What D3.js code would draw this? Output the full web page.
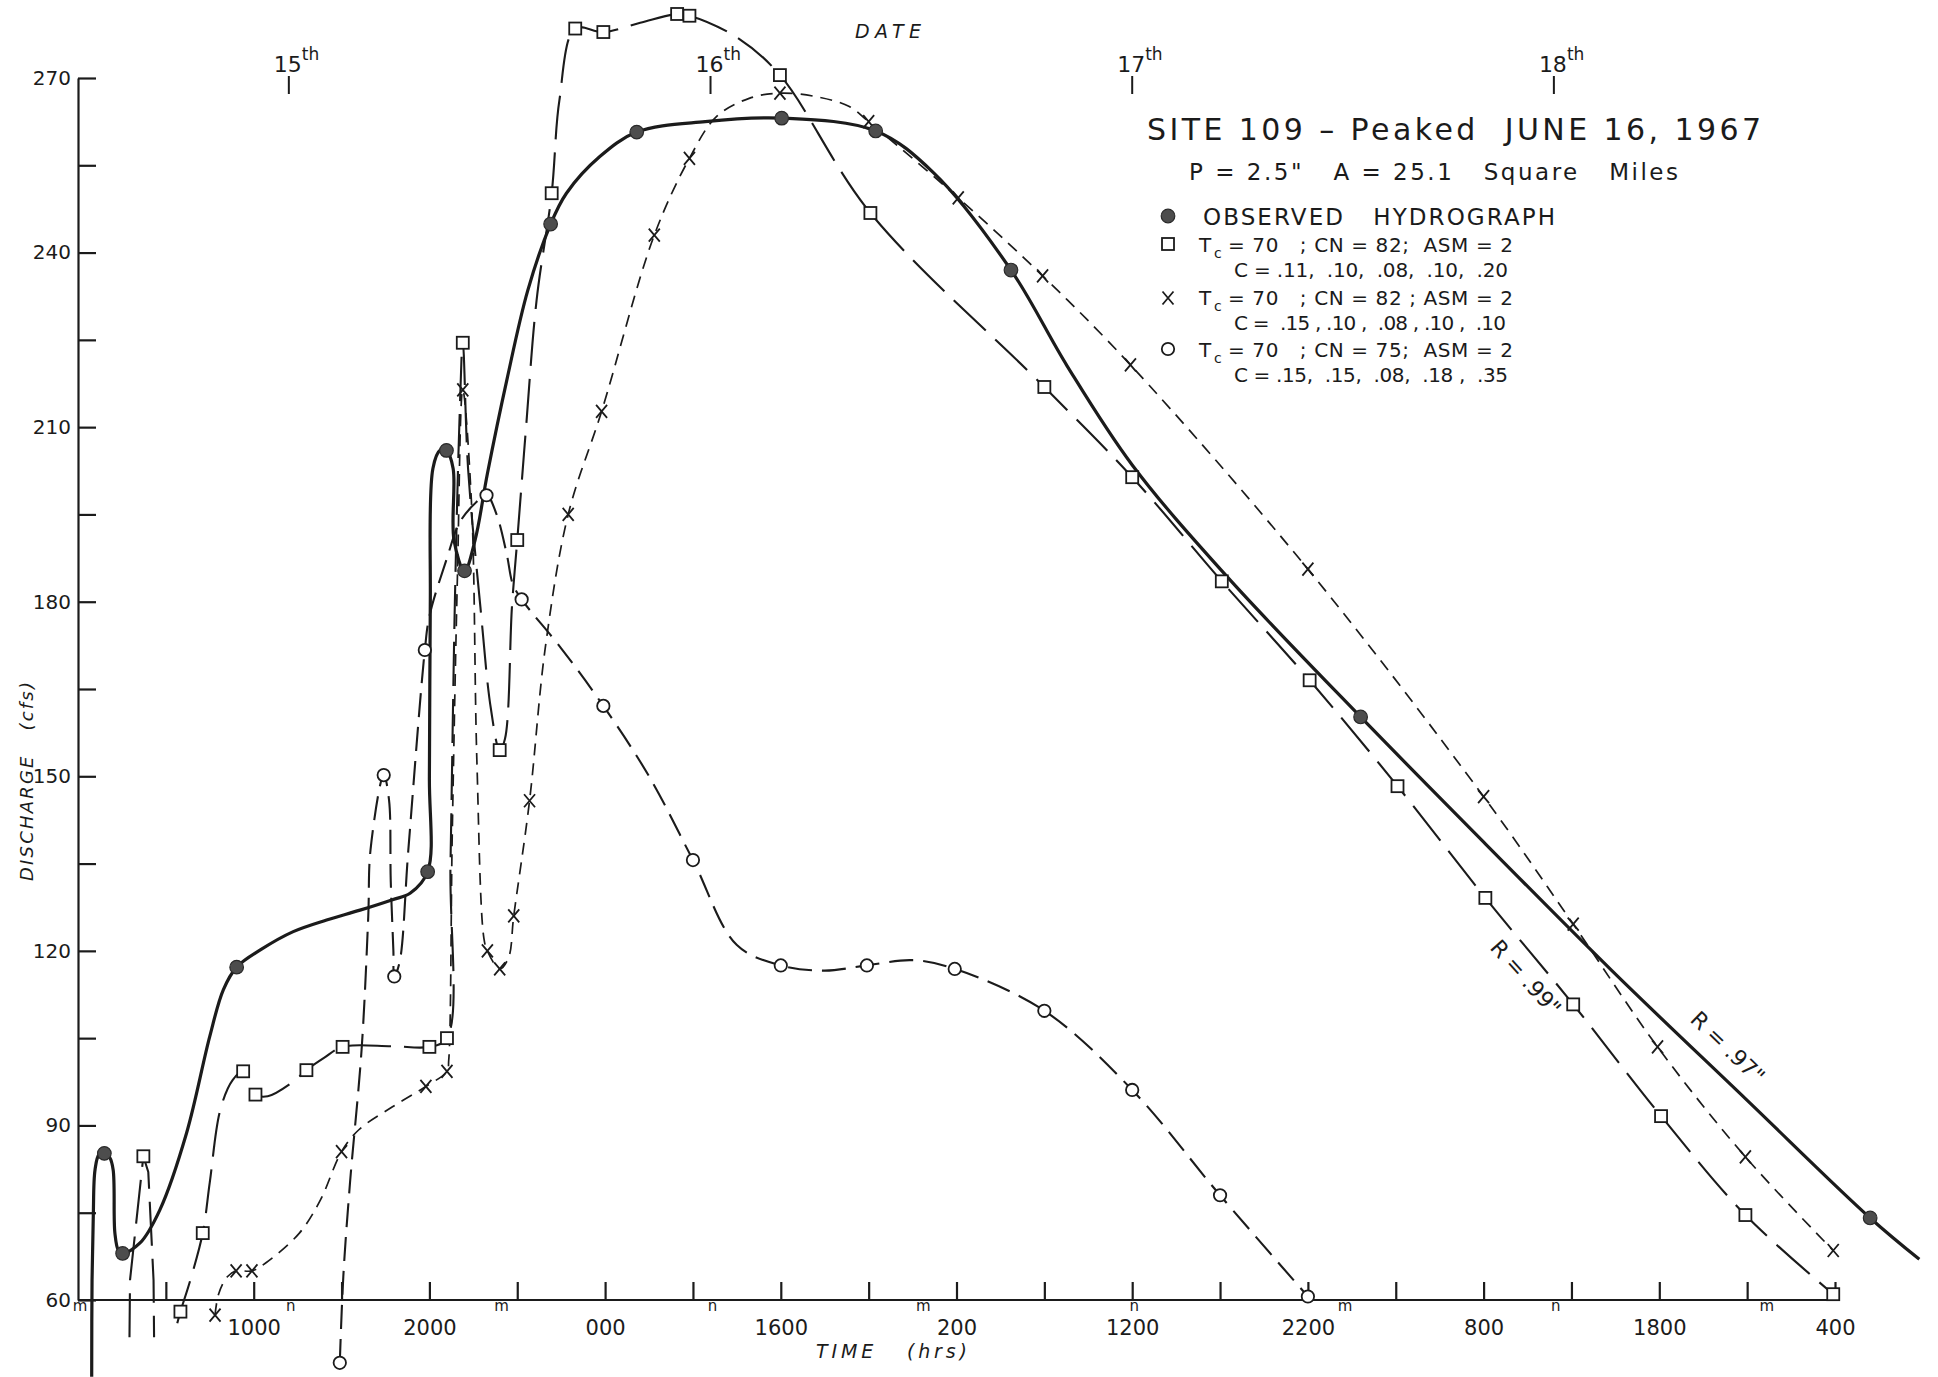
<!DOCTYPE html>
<html>
<head>
<meta charset="utf-8">
<title>Site 109 hydrograph</title>
<script src="https://cdn.jsdelivr.net/npm/d3@7"></script>
<style>
  html, body { margin: 0; padding: 0; background: #ffffff; }
  svg { display: block; }
  text { white-space: pre; }
</style>
</head>
<body>
<svg id="chart" width="1938" height="1377"></svg>
<script>
// Time is counted in hours from midnight at the start of June 15; discharge in cfs.

// Observed hydrograph: traced line and the measured (filled) points
const obsHours = [0.78, 0.8, 0.87, 0.97, 1.2, 1.5, 1.8, 2.0, 2.1, 2.3, 2.54, 3.53, 4.66, 6.18, 7.5, 8.27, 9.03, 10.4, 12.25, 14.15, 16.05, 17.9, 18.9, 19.9, 20.0, 20.05, 20.2, 20.6, 20.97, 21.35, 21.4, 22.0, 22.6, 23.3, 24.4, 25.6, 26.9, 27.8, 29.7, 31.8, 35.7, 40.05, 45.4, 48.7, 53.1, 56.3, 60.0, 65.4, 73.0, 80.1, 87.3, 94.9, 102.0, 104.8];
const obsCfs   = [46.8, 63.5, 74.4, 82.4, 85.0, 85.2, 84.5, 82.4, 71.5, 68.5, 68.0, 69.8, 75.5, 88.7, 105.3, 113.3, 117.2, 120.2, 123.3, 125.3, 127.0, 128.8, 129.9, 133.6, 150, 179.2, 202.9, 206, 206, 202.9, 190.6, 185.3, 190.6, 202, 218, 233.5, 244.9, 250.2, 256.5, 260.7, 262.5, 263.1, 260.9, 253.7, 237, 220.5, 203.5, 184.3, 160.2, 138.4, 116.6, 94.6, 74.1, 67.0];
const obsDotHours = [1.5, 2.54, 9.03, 19.9, 20.97, 22.0, 26.9, 31.8, 40.05, 45.4, 53.1, 73.0, 102.0];
const obsDotCfs   = [85.2, 68.0, 117.2, 133.6, 206, 185.3, 244.9, 260.7, 263.1, 260.9, 237, 160.2, 74.1];

// Tc = 70; CN = 82; ASM = 2; C = .11, .10, .08, .10, .20  (squares)
const sqLeadHours = [2.93, 2.96, 3.72, 4.0, 4.3, 4.33];
const sqLeadCfs   = [53.6, 63.4, 84.7, 82, 63.4, 53.6];
const sqHours = [5.65, 5.83, 6.4, 7.1, 7.5, 8.1, 8.8, 9.4, 10.1, 10.8, 12.2, 13.0, 14.0, 15.06, 17.9, 20.0, 21.0, 21.2, 21.45, 21.7, 21.9, 22.2, 22.9, 23.5, 24.0, 24.3, 24.7, 25.0, 25.5, 26.1, 26.96, 27.4, 28.3, 29.9, 32.0, 34.1, 34.8, 37.5, 39.95, 45.1, 55.0, 60.0, 65.1, 70.1, 75.1, 80.1, 85.1, 90.1, 94.9, 99.9];
const sqCfs   = [56, 58.0, 63.5, 71.5, 80.2, 92.7, 97.8, 99.3, 95.3, 95, 97.4, 99.5, 101.6, 103.5, 103.6, 103.5, 105, 135, 180, 210, 224.5, 202.9, 179.2, 161.6, 154.5, 156.4, 179.2, 190.6, 209.9, 231.8, 250.2, 266.2, 278.5, 277.9, 279.5, 281, 280.7, 277, 270.5, 246.8, 216.9, 201.4, 183.5, 166.5, 148.3, 129.1, 110.8, 91.6, 74.6, 61];
const sqMarkHours = [3.72, 5.83, 7.1, 9.4, 10.1, 13.0, 15.06, 20.0, 21.0, 21.9, 24.0, 25.0, 26.96, 28.3, 29.9, 34.1, 34.8, 39.95, 45.1, 55.0, 60.0, 65.1, 70.1, 75.1, 80.1, 85.1, 90.1, 94.9, 99.9];
const sqMarkCfs   = [84.7, 58.0, 71.5, 99.3, 95.3, 99.5, 103.5, 103.5, 105, 224.5, 154.5, 190.6, 250.2, 278.5, 277.9, 281, 280.7, 270.5, 246.8, 216.9, 201.4, 183.5, 166.5, 148.3, 129.1, 110.8, 91.6, 74.6, 61];

// Tc = 70; CN = 82; ASM = 2; C = .15, .10, .08, .10, .10  (crosses)
const xHours = [7.8, 8.0, 8.5, 9.0, 9.9, 10.7, 12.6, 13.8, 15.0, 16.0, 17.9, 19.8, 21.0, 21.1, 21.3, 21.6, 21.9, 22.4, 22.7, 23.1, 23.3, 24.0, 24.5, 24.8, 25.7, 26.6, 27.9, 29.8, 32.8, 34.8, 36.35, 38.2, 39.95, 42.0, 43.9, 45.0, 50.1, 54.9, 59.9, 70.0, 80.0, 85.1, 89.9, 94.9, 99.9];
const xCfs   = [57.4, 61, 64, 65, 65, 66.4, 71.5, 77.2, 85.5, 89.3, 93.2, 96.7, 99.3, 101.2, 140, 185, 216.4, 196.7, 152.9, 122.2, 120.0, 116.9, 118.8, 126, 145.8, 172.2, 195, 212.7, 243, 256.2, 263.4, 266.5, 267.4, 266.8, 265.1, 262.5, 249.4, 236, 220.7, 185.6, 146.5, 124.6, 103.5, 84.6, 68.5];
const xMarkHours = [7.8, 9.0, 9.9, 15.0, 19.8, 21.0, 21.9, 23.3, 24.0, 24.8, 25.7, 27.9, 29.8, 32.8, 34.8, 39.95, 45.0, 50.1, 54.9, 59.9, 70.0, 80.0, 85.1, 89.9, 94.9, 99.9];
const xMarkCfs   = [57.4, 65, 65, 85.5, 96.7, 99.3, 216.4, 120.0, 116.9, 126, 145.8, 195, 212.7, 243, 256.2, 267.4, 262.5, 249.4, 236, 220.7, 185.6, 146.5, 124.6, 103.5, 84.6, 68.5];

// Tc = 70; CN = 75; ASM = 2; C = .15, .15, .08, .18, .35  (circles)
const oHours = [14.9, 15.1, 15.48, 16.14, 16.52, 16.65, 17.4, 17.7, 17.8, 17.95, 18.0, 18.3, 18.8, 19.74, 20.0, 21.0, 21.7, 22.5, 23.25, 23.8, 24.4, 24.75, 25.25, 27.5, 29.9, 32.5, 35.0, 37.5, 40.0, 42.5, 44.9, 47.5, 49.9, 55.0, 60.0, 65.0, 70.0];
const oCfs   = [49.2, 64, 80.1, 103, 125.9, 137.4, 150.2, 146, 132, 120, 115.6, 118, 137.3, 171.7, 177.5, 187.5, 193.5, 196.6, 198.3, 195.2, 188.2, 183, 180.4, 172, 162.1, 150, 135.6, 121, 117.5, 116.6, 117.5, 118.4, 116.9, 109.7, 96.1, 78.0, 60.6];
const oMarkHours = [14.9, 17.4, 18.0, 19.74, 23.25, 25.25, 29.9, 35.0, 40.0, 44.9, 49.9, 55.0, 60.0, 65.0, 70.0];
const oMarkCfs   = [49.2, 150.2, 115.6, 171.7, 198.3, 180.4, 162.1, 135.6, 117.5, 117.5, 116.9, 109.7, 96.1, 78.0, 60.6];

// Axis ticks and labels
const yTickValues  = [60, 75, 90, 105, 120, 135, 150, 165, 180, 195, 210, 225, 240, 255, 270];
const yLabelValues = [60, 90, 120, 150, 180, 210, 240, 270];
const timeTickHours  = [5, 10, 15, 20, 25, 30, 35, 40, 45, 50, 55, 60, 65, 70, 75, 80, 85, 90, 95, 100];
const timeLabelHours = [10, 20, 30, 40, 50, 60, 70, 80, 90, 100];
const timeLabels     = ["1000", "2000", "000", "1600", "200", "1200", "2200", "800", "1800", "400"];
const clockHours  = [0, 12, 24, 36, 48, 60, 72, 84, 96];
const clockLabels = ["m", "n", "m", "n", "m", "n", "m", "n", "m"];
const dayHours  = [12, 36, 60, 84];
const dayLabels = ["15", "16", "17", "18"];

// Correlation notes written along the recession limbs
const noteText  = ['R = .99"', 'R = .97"'];
const noteHours = [82.4, 93.9];
const noteCfs   = [115.4, 103.4];

// ---------------------------------------------------------------------------
const FONT = '"DejaVu Sans", "Liberation Sans", sans-serif';
const INK = "#1b1b1b";
const svg = d3.select("#chart");

const x = d3.scaleLinear().domain([0, 100]).range([78, 1835]);
const y = d3.scaleLinear().domain([60, 270]).range([1300, 78]);

// Axes: ticks point into the plot
const yAxis = d3.axisLeft(y)
  .tickValues(yTickValues)
  .tickSizeInner(-18).tickSizeOuter(0).tickPadding(7)
  .tickFormat(d => yLabelValues.includes(d) ? String(d) : "");
const gy = svg.append("g").attr("transform", `translate(${x(0)},0)`).call(yAxis);

const xAxis = d3.axisBottom(x)
  .tickValues(timeTickHours)
  .tickSizeInner(-18).tickSizeOuter(0).tickPadding(20)
  .tickFormat(d => { const i = timeLabelHours.indexOf(d); return i >= 0 ? timeLabels[i] : ""; });
const gx = svg.append("g").attr("transform", `translate(0,${y(60)})`).call(xAxis);
gx.select(".domain").attr("d", `M${x(0)},0H${x(100) + 5}`);

[gx, gy].forEach(g => {
  g.attr("font-family", FONT).attr("font-size", 21);
  g.selectAll("path, line").attr("stroke", INK).attr("stroke-width", 2.2);
  g.selectAll("text").attr("fill", INK);
});
gy.selectAll("text").attr("font-size", 20);

// midnight / noon marks under the time axis
svg.append("g").selectAll("text").data(clockHours).join("text")
  .attr("x", d => x(d) + 2).attr("y", y(60) + 11)
  .attr("text-anchor", "middle")
  .attr("font-family", FONT).attr("font-size", 15).attr("fill", INK)
  .text((d, i) => clockLabels[i]);

// date marks along the top (at noon of each day)
const dg = svg.append("g");
dayHours.forEach((h, i) => {
  dg.append("line").attr("x1", x(h)).attr("x2", x(h)).attr("y1", 76).attr("y2", 94)
    .attr("stroke", INK).attr("stroke-width", 2);
  dg.append("text").attr("x", x(h) - 1).attr("y", 72).attr("text-anchor", "middle")
    .attr("font-family", FONT).attr("font-size", 22).attr("fill", INK).text(dayLabels[i]);
  dg.append("text").attr("x", x(h) + 13).attr("y", 60)
    .attr("font-family", FONT).attr("font-size", 17).attr("fill", INK).text("th");
});

// axis titles
svg.append("text").attr("x", 855).attr("y", 38)
  .attr("font-family", FONT).attr("font-style", "italic").attr("font-size", 19).attr("fill", INK)
  .attr("textLength", 66).attr("lengthAdjust", "spacing").text("DATE");
svg.append("text").attr("x", 816).attr("y", 1358)
  .attr("font-family", FONT).attr("font-style", "italic").attr("font-size", 19).attr("fill", INK)
  .attr("textLength", 151).attr("lengthAdjust", "spacing").text("TIME   (hrs)");
svg.append("text").attr("transform", "translate(33,881) rotate(-90)")
  .attr("font-family", FONT).attr("font-style", "italic").attr("font-size", 18).attr("fill", INK)
  .attr("textLength", 199).attr("lengthAdjust", "spacing").text("DISCHARGE   (cfs)");

// ---------------------------------------------------------------------------
// Curves
const smooth = d3.line().x(d => x(d[0])).y(d => y(d[1])).curve(d3.curveCatmullRom.alpha(0.5));
const straight = d3.line().x(d => x(d[0])).y(d => y(d[1]));

function trace(gen, hours, cfs, width, dash) {
  svg.append("path")
    .attr("d", gen(d3.zip(hours, cfs)))
    .attr("fill", "none").attr("stroke", INK)
    .attr("stroke-width", width)
    .attr("stroke-linejoin", "round").attr("stroke-linecap", "butt")
    .attr("stroke-dasharray", dash);
}

trace(smooth, oHours, oCfs, 2.1, "24,10");
trace(smooth, xHours, xCfs, 1.7, "12,8");
trace(straight, sqLeadHours, sqLeadCfs, 2.1, "44,13");
trace(smooth, sqHours, sqCfs, 2.1, "44,13");
trace(smooth, obsHours, obsCfs, 3.2, null);

// Marker shapes
function squareMark(g, cx, cy) {
  g.append("rect").attr("x", cx - 6).attr("y", cy - 6).attr("width", 12).attr("height", 12)
    .attr("fill", "#fff").attr("stroke", INK).attr("stroke-width", 1.8);
}
function crossMark(g, cx, cy) {
  g.append("path").attr("d", `M${cx - 5.5},${cy - 6.5}L${cx + 5.5},${cy + 6.5}M${cx - 5.5},${cy + 6.5}L${cx + 5.5},${cy - 6.5}`)
    .attr("stroke", INK).attr("stroke-width", 1.8).attr("fill", "none");
}
function circleMark(g, cx, cy) {
  g.append("circle").attr("cx", cx).attr("cy", cy).attr("r", 6.2)
    .attr("fill", "#fff").attr("stroke", INK).attr("stroke-width", 1.8);
}
function dotMark(g, cx, cy) {
  g.append("circle").attr("cx", cx).attr("cy", cy).attr("r", 6.8)
    .attr("fill", "#4d4d4d").attr("stroke", "#2a2a2a").attr("stroke-width", 1.2);
}

const mg = svg.append("g");
oMarkHours.forEach((h, i) => circleMark(mg, x(h), y(oMarkCfs[i])));
xMarkHours.forEach((h, i) => crossMark(mg, x(h), y(xMarkCfs[i])));
sqMarkHours.forEach((h, i) => squareMark(mg, x(h), y(sqMarkCfs[i])));
obsDotHours.forEach((h, i) => dotMark(mg, x(h), y(obsDotCfs[i])));

// Correlation notes
const noteAngles = [48, 44];
noteText.forEach((t, i) => {
  svg.append("text")
    .attr("transform", `translate(${x(noteHours[i])},${y(noteCfs[i])}) rotate(${noteAngles[i]})`)
    .attr("text-anchor", "middle").attr("dy", "0.35em")
    .attr("font-family", FONT).attr("font-size", 22).attr("fill", INK)
    .text(t);
});

// ---------------------------------------------------------------------------
// Title block and key
function label(str, px, py, size, len) {
  const t = svg.append("text").attr("x", px).attr("y", py)
    .attr("font-family", FONT).attr("font-size", size).attr("fill", INK).text(str);
  if (len) t.attr("textLength", len).attr("lengthAdjust", "spacing");
  return t;
}

label("SITE 109 \u2013 Peaked  JUNE 16, 1967", 1147, 140, 30, 614);
label('P = 2.5"   A = 25.1   Square   Miles', 1189, 180, 23, 489);

dotMark(svg, 1168, 216);
label("OBSERVED   HYDROGRAPH", 1203, 225, 23, 352);

function tcLine(py, rest) {
  label("T", 1199, py, 20);
  label("c", 1214, py + 6, 14);
  label(rest, 1228, py, 20, 1513 - 1228);
}

squareMark(svg, 1168, 244);
tcLine(252, "= 70   ; CN = 82;  ASM = 2");
label("C = .11,  .10,  .08,  .10,  .20", 1234, 277, 20, 274);

crossMark(svg, 1168, 298);
tcLine(305, "= 70   ; CN = 82 ; ASM = 2");
label("C =  .15 , .10 ,  .08 , .10 ,  .10", 1234, 330, 20, 272);

circleMark(svg, 1168, 349);
tcLine(357, "= 70   ; CN = 75;  ASM = 2");
label("C = .15,  .15,  .08,  .18 ,  .35", 1234, 382, 20, 274);
</script>
</body>
</html>
